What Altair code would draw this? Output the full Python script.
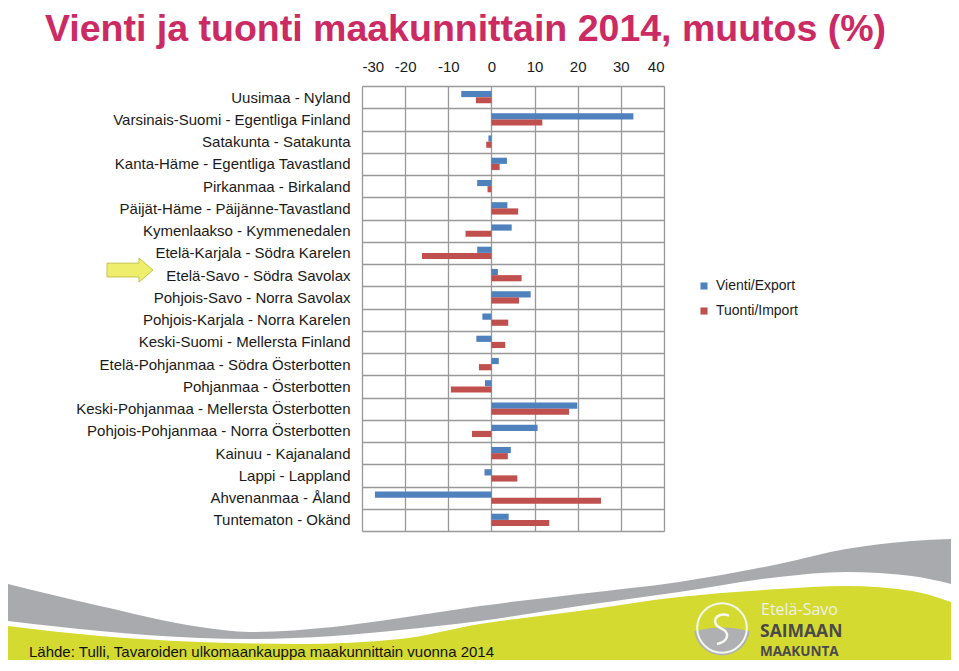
import altair as alt
import pandas as pd

# ---------------- data ----------------
regions = [
    "Uusimaa - Nyland",
    "Varsinais-Suomi - Egentliga Finland",
    "Satakunta - Satakunta",
    "Kanta-Häme - Egentliga Tavastland",
    "Pirkanmaa - Birkaland",
    "Päijät-Häme - Päijänne-Tavastland",
    "Kymenlaakso - Kymmenedalen",
    "Etelä-Karjala - Södra Karelen",
    "Etelä-Savo - Södra Savolax",
    "Pohjois-Savo - Norra Savolax",
    "Pohjois-Karjala - Norra Karelen",
    "Keski-Suomi - Mellersta Finland",
    "Etelä-Pohjanmaa - Södra Österbotten",
    "Pohjanmaa - Österbotten",
    "Keski-Pohjanmaa - Mellersta Österbotten",
    "Pohjois-Pohjanmaa - Norra Österbotten",
    "Kainuu - Kajanaland",
    "Lappi - Lappland",
    "Ahvenanmaa - Åland",
    "Tuntematon - Okänd",
]
vienti = [-7.0, 32.9, -0.7, 3.6, -3.3, 3.7, 4.7, -3.3, 1.5, 9.1,
          -2.1, -3.5, 1.7, -1.5, 19.9, 10.7, 4.5, -1.6, -27.0, 4.0]
tuonti = [-3.6, 11.8, -1.2, 1.9, -0.9, 6.2, -6.0, -16.1, 7.0, 6.4,
          3.9, 3.2, -2.9, -9.4, 18.0, -4.5, 3.8, 6.0, 25.4, 13.4]
series = ["Vienti/Export", "Tuonti/Import"]
series_colors = ["#4f81bd", "#c0504d"]
x_ticks = [-30, -20, -10, 0, 10, 20, 30, 40]
highlight_region = "Etelä-Savo - Södra Savolax"

title_text = "Vienti ja tuonti maakunnittain 2014, muutos (%)"
source_text = "Lähde: Tulli, Tavaroiden ulkomaankauppa maakunnittain vuonna 2014"

# decorative footer (slide template wave), page-pixel coordinates
gray_x = [8, 100, 200, 250, 333, 400, 480, 579, 679, 779, 846, 912, 951]
gray_top = [585, 607, 628, 633, 628, 619, 607, 595, 583, 565, 550, 542, 540]
gray_bottom = [622, 632, 639, 640, 637, 631, 622, 607, 593, 578, 573, 577, 585]
green_x = [8, 100, 200, 300, 400, 480, 579, 679, 779, 846, 912, 951]
green_top = [627, 637, 643, 645, 640, 625, 612, 598, 590, 587, 592, 603]

rows = []
for r, e, i in zip(regions, vienti, tuonti):
    rows.append({"Alue": r, "Sarja": series[0], "Muutos": e})
    rows.append({"Alue": r, "Sarja": series[1], "Muutos": i})
df = pd.DataFrame(rows)

FONT = "Liberation Sans"
GRID = "#999999"

bars = alt.Chart(df).mark_bar().encode(
    x=alt.X(
        "Muutos:Q",
        scale=alt.Scale(domain=[-30, 40], nice=False, zero=False),
        axis=alt.Axis(orient="top", values=x_ticks, title=None, grid=True,
                      ticks=False, domain=False, labelFontSize=15,
                      labelPadding=12, gridColor=GRID, gridWidth=1.3,
                      labelColor="#1a1a1a", labelFont=FONT,
                      labelExpr="datum.value < 0 ? '-' + abs(datum.value) : '' + datum.value"),
    ),
    y=alt.Y(
        "Alue:N", sort=regions,
        scale=alt.Scale(paddingInner=0, paddingOuter=0),
        axis=alt.Axis(title=None, tickBand="extent", grid=True, ticks=False,
                      domain=False, labelFontSize=15, labelPadding=12,
                      labelLimit=400, gridColor=GRID, gridWidth=1.3,
                      labelColor="#1a1a1a", labelFont=FONT),
    ),
    yOffset=alt.YOffset("Sarja:N", sort=series,
                        scale=alt.Scale(paddingInner=0, paddingOuter=0.8)),
    color=alt.Color(
        "Sarja:N", sort=series,
        scale=alt.Scale(domain=series, range=series_colors),
        legend=alt.Legend(title=None, orient="none", legendX=335, legendY=193,
                          symbolType="square", symbolSize=50, labelFontSize=14,
                          labelFont=FONT, labelColor="#1a1a1a", rowPadding=11,
                          labelOffset=5, symbolStrokeWidth=0),
    ),
)

# arrow pointing at the highlighted region (centre shifted a little upward)
ARROW = "M -1 -0.52 L 0.39 -0.52 L 0.39 -0.74 L 1 -0.22 L 0.39 0.3 L 0.39 0.08 L -1 0.08 Z"
arrow = alt.Chart(pd.DataFrame({"Alue": [highlight_region]})).mark_point(
    shape=ARROW, size=2116, filled=True, fill="#eeee6c", stroke="#c4c44c",
    strokeWidth=1, opacity=1
).encode(
    y=alt.Y("Alue:N", sort=regions),
    x=alt.value(-232),
)

main = alt.layer(bars, arrow)

# ---------------- footer ----------------
PLOT_TOP = 87
BOTTOM = 661
xs = alt.Scale(domain=[8, 951], range=[-354, 589], nice=False, zero=False)
ys = alt.Scale(domain=[540, BOTTOM], range=[540 - PLOT_TOP, BOTTOM - PLOT_TOP],
               nice=False, zero=False)

gray = alt.Chart(pd.DataFrame({"x": gray_x, "top": gray_top, "bottom": gray_bottom})).mark_area(
    color="#a8aaad", interpolate="monotone"
).encode(
    x=alt.X("x:Q", scale=xs, axis=None),
    y=alt.Y("top:Q", scale=ys, axis=None),
    y2="bottom:Q",
)
green = alt.Chart(pd.DataFrame({"x": green_x, "top": green_top})).transform_calculate(
    bottom=str(BOTTOM)
).mark_area(color="#d4da30", interpolate="monotone").encode(
    x=alt.X("x:Q", scale=xs, axis=None),
    y=alt.Y("top:Q", scale=ys, axis=None),
    y2="bottom:Q",
)

logo_df = pd.DataFrame({"x": [722], "y": [629]})
SEGMENT = "M -0.99 0.12 Q 0 -0.15 0.99 0.12 A 1 1 0 0 1 -0.99 0.12 Z"
SWIRL = "M 0.35 -0.62 C -0.35 -0.85 -0.6 -0.2 -0.05 0.02 C 0.45 0.22 0.3 0.7 -0.25 0.8"
seg = alt.Chart(logo_df).mark_point(shape=SEGMENT, size=3136, filled=True,
                                    fill="#aeb0b2", strokeWidth=0, opacity=1).encode(
    x=alt.X("x:Q", scale=xs, axis=None), y=alt.Y("y:Q", scale=ys, axis=None))
ring = alt.Chart(logo_df).mark_point(shape="circle", size=2463, filled=False,
                                     stroke="#f4f6ee", strokeWidth=2, opacity=1).encode(
    x=alt.X("x:Q", scale=xs, axis=None), y=alt.Y("y:Q", scale=ys, axis=None))
swirl = alt.Chart(logo_df).mark_point(shape=SWIRL, size=1600, filled=False,
                                      stroke="#f7f8f2", strokeWidth=2.5, opacity=1).encode(
    x=alt.X("x:Q", scale=xs, axis=None), y=alt.Y("y:Q", scale=ys, axis=None))

def ftext(txt, x, y, size, color, weight="normal", font=FONT, baseline="middle"):
    return alt.Chart(pd.DataFrame({"x": [x], "y": [y], "t": [txt]})).mark_text(
        align="left", baseline=baseline, fontSize=size, color=color,
        fontWeight=weight, font=font
    ).encode(x=alt.X("x:Q", scale=xs, axis=None),
             y=alt.Y("y:Q", scale=ys, axis=None), text="t:N")

t1 = ftext("Etelä-Savo", 761, 611, 16, "#eef0ea", font="Open Sans")
t2 = ftext("SAIMAAN", 760, 633, 17.5, "#4a4a4c", weight="bold", font="Open Sans")
t3 = ftext("MAAKUNTA", 760, 653, 13.5, "#4a4a4c", weight="bold", font="Open Sans")
src = ftext(source_text, 29, 658, 15, "#111111", baseline="alphabetic")

footer = alt.layer(gray, green, seg, ring, swirl, t1, t2, t3, src)

chart = alt.layer(main, footer).resolve_scale(
    x="independent", y="independent"
).properties(
    width=302, height=445,
    padding={"top": 2, "left": 0, "right": 0, "bottom": 0},
    title=alt.TitleParams(title_text, anchor="start", fontSize=37.5, font=FONT,
                          fontWeight="bold", color="#cb2a63", dx=37, offset=11),
).configure_view(stroke=None).configure(background="white")

chart.save("out.html", embed_options={"renderer": "svg", "actions": False})
